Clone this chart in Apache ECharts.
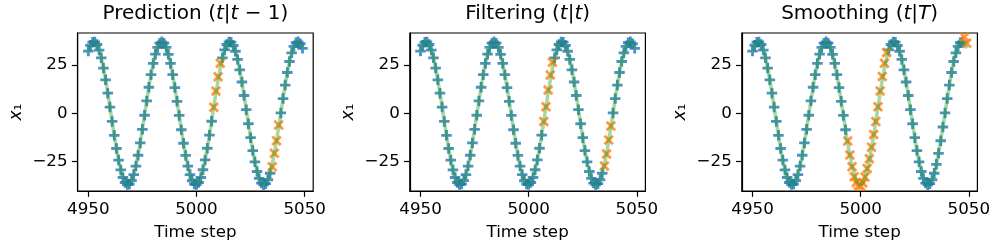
<!DOCTYPE html>
<html>
<head>
<meta charset="utf-8">
<script src="https://cdn.jsdelivr.net/npm/echarts@6/dist/echarts.min.js"></script>
<style>
html,body{margin:0;padding:0;background:#fff;}
#c{width:997px;height:249px;}
</style>
</head>
<body>
<div id="c"></div>
<script>
// ---- data ----
const steps = [4950,4951,4952,4953,4954,4955,4956,4957,4958,4959,4960,4961,4962,4963,4964,4965,4966,4967,4968,4969,
4970,4971,4972,4973,4974,4975,4976,4977,4978,4979,4980,4981,4982,4983,4984,4985,4986,4987,4988,4989,
4990,4991,4992,4993,4994,4995,4996,4997,4998,4999,5000,5001,5002,5003,5004,5005,5006,5007,5008,5009,
5010,5011,5012,5013,5014,5015,5016,5017,5018,5019,5020,5021,5022,5023,5024,5025,5026,5027,5028,5029,
5030,5031,5032,5033,5034,5035,5036,5037,5038,5039,5040,5041,5042,5043,5044,5045,5046,5047,5048,5049];
const truth = [32.2,35.2,36.8,36.9,35.6,32.7,28.7,23.4,17.3,10.4,3.2,-4.2,-11.4,-18.2,-24.2,-29.3,-33.2,-35.8,-36.9,-36.6,
-34.8,-31.7,-27.3,-21.7,-15.3,-8.3,-1.0,6.4,13.5,20.0,25.8,30.6,34.1,36.3,37.0,36.3,34.1,30.5,25.8,20.0,
13.3,6.2,-1.1,-8.5,-15.5,-21.8,-27.3,-31.7,-34.9,-36.6,-36.9,-35.8,-33.2,-29.2,-24.1,-18.1,-11.3,-4.1,3.3,10.6,
17.4,23.5,28.7,32.8,35.6,36.9,36.8,35.1,32.1,27.9,22.5,16.2,9.2,1.9,-5.4,-12.6,-19.3,-25.1,-30.1,-33.7,
-36.1,-37.0,-36.4,-34.4,-31.0,-26.4,-20.7,-14.2,-7.1,0.2,7.6,14.6,21.1,26.8,31.3,34.6,36.5,37.0,36.0,33.6];

const predOutT = [5008,5009,5010,5011,5035,5036,5037,5038];
const predOutV = [3.1,11.5,18.9,25.9,-27.6,-20.7,-14.2,-6.0];
const filtOutT = [5007,5008,5009,5010,5011,5035,5036,5037,5038];
const filtOutV = [-4.3,3.4,12.1,19.8,26.4,-27.3,-21.0,-13.8,-6.6];
const smooOutT = [4994,4995,4996,4997,4998,4999,5000,5001,5002,5003,5004,5005,5006,5007,5008,5009,5010,5011,5012,5048,5049];
const smooOutV = [-14.3,-21.6,-27.6,-32.8,-35.8,-37.4,-37.8,-36.0,-33.0,-28.5,-23.5,-17.5,-11.0,-4.3,3.4,11.5,19.0,25.9,31.4,39.5,36.2];

const titleTexts = [
  '{n|Prediction (}{i|t}{n||}{i|t}{n| \u2212 1)}',
  '{n|Filtering (}{i|t}{n||}{i|t}{n|)}',
  '{n|Smoothing (}{i|t}{n||}{i|T}{n|)}'
];
const xTicks = [4950, 5000, 5050];
const yTicks = [-25, 0, 25];
const xLabel = 'Time step';

// ---- layout ----
const FONT = 'DejaVu Sans';
const gridLefts = [77.6, 409.8, 741.8];
const gridW = 235.6, gridTop = 33, gridH = 158;
const xMin = 4945.05, xMax = 5053.95, yMin = -40.2, yMax = 41.55;

const outs = [[predOutT, predOutV], [filtOutT, filtOutV], [smooOutT, smooOutV]];

const plusPath = 'path://M3.65,0H6.35V3.65H10V6.35H6.35V10H3.65V6.35H0V3.65H3.65Z';
const crossPath = 'path://M0,1.9L1.9,0L5,3.1L8.1,0L10,1.9L6.9,5L10,8.1L8.1,10L5,6.9L1.9,10L0,8.1L3.1,5Z';

const grids = [], xAxes = [], yAxes = [], series = [], titles = [];
for (let p = 0; p < 3; p++) {
  grids.push({left: gridLefts[p], top: gridTop, width: gridW, height: gridH,
    show: true, borderColor: '#000', borderWidth: 1.2, backgroundColor: 'transparent', containLabel: false});
  xAxes.push({type: 'value', gridIndex: p, min: xMin, max: xMax,
    name: xLabel, nameLocation: 'middle', nameGap: 33,
    nameTextStyle: {fontFamily: FONT, fontSize: 16.7, color: '#000'},
    axisLine: {show: true, onZero: false, lineStyle: {color: '#000', width: 1.2}},
    axisTick: {show: true, length: 5.8, lineStyle: {color: '#000', width: 1.2}, customValues: xTicks},
    axisLabel: {show: true, margin: 10, fontFamily: FONT, fontSize: 16.7, color: '#000', customValues: xTicks,
      formatter: v => String(v)},
    splitLine: {show: false}});
  yAxes.push({type: 'value', gridIndex: p, min: yMin, max: yMax,
    name: '{i|x}{n|\u2081}', nameLocation: 'middle', nameGap: 53, nameRotate: 90,
    nameTextStyle: {fontFamily: FONT, fontSize: 16.7, color: '#000',
      rich: {i: {fontFamily: FONT, fontStyle: 'italic', fontSize: 17, color: '#000'},
             n: {fontFamily: FONT, fontSize: 17, color: '#000'}}},
    axisLine: {show: true, onZero: false, lineStyle: {color: '#000', width: 1.2}},
    axisTick: {show: true, length: 5.8, lineStyle: {color: '#000', width: 1.2}, customValues: yTicks},
    axisLabel: {show: true, margin: 10, fontFamily: FONT, fontSize: 16.7, color: '#000', customValues: yTicks,
      formatter: v => String(v).replace('-', '\u2212')},
    splitLine: {show: false}});

  const [oT, oV] = outs[p];
  const blue = [], orange = [], line = [];
  for (let i = 0; i < steps.length; i++) {
    line.push([steps[i], truth[i]]);
    if (!oT.includes(steps[i])) blue.push([steps[i], truth[i]]);
  }
  for (let j = 0; j < oT.length; j++) orange.push([oT[j], oV[j]]);

  series.push({type: 'scatter', xAxisIndex: p, yAxisIndex: p, data: blue, symbol: plusPath, symbolSize: 10.5,
    itemStyle: {color: '#1f77b4'}, z: 2, silent: true});
  series.push({type: 'scatter', xAxisIndex: p, yAxisIndex: p, data: orange, symbol: crossPath, symbolSize: 10.5,
    itemStyle: {color: '#ff7f0e'}, z: 3, silent: true});
  series.push({type: 'line', xAxisIndex: p, yAxisIndex: p, data: line, showSymbol: false, symbol: 'none',
    lineStyle: {color: '#2ca02c', width: 3.5, opacity: 0.42}, z: 4, silent: true});

  titles.push({text: titleTexts[p], left: gridLefts[p] + gridW / 2, top: 4, textAlign: 'center', padding: 0,
    textStyle: {fontFamily: FONT, fontSize: 20, fontWeight: 'normal', color: '#000',
      rich: {n: {fontFamily: FONT, fontSize: 20, color: '#000'},
             i: {fontFamily: FONT, fontSize: 20, fontStyle: 'italic', color: '#000'}}}});
}

const chart = echarts.init(document.getElementById('c'), null, {renderer: 'canvas'});
chart.setOption({
  animation: false,
  backgroundColor: '#fff',
  title: titles,
  grid: grids,
  xAxis: xAxes,
  yAxis: yAxes,
  series: series
});
</script>
</body>
</html>
